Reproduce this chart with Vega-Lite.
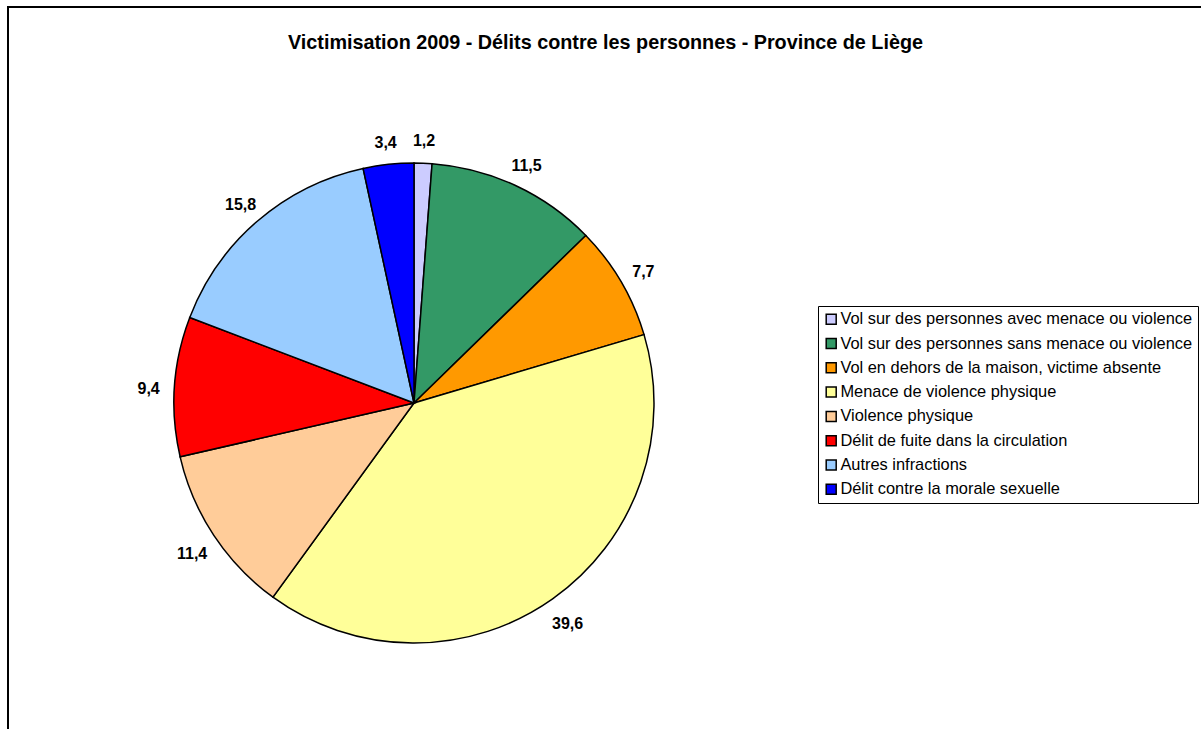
{
  "$schema": "https://vega.github.io/schema/vega-lite/v6.json",
  "width": 1195,
  "height": 729,
  "padding": {"left": 8, "top": 7, "right": 0, "bottom": 0},
  "autosize": {"type": "pad"},
  "background": "white",
  "view": {"stroke": "black", "strokeWidth": 2, "fill": "white"},
  "config": {
    "view": {"stroke": "black", "strokeWidth": 2},
    "font": "Liberation Sans",
    "locale": {"number": {"decimal": ",", "thousands": ".", "grouping": [3], "currency": ["", " €"]}}
  },
  "title": {
    "text": "Victimisation 2009 - Délits contre les personnes - Province de Liège",
    "anchor": "middle",
    "frame": "group",
    "offset": -46,
    "fontSize": 19.8,
    "font": "Liberation Sans",
    "fontWeight": "bold",
    "color": "black"
  },
  "data": {
    "values": [
      {"idx": 1, "categorie": "Vol sur des personnes avec menace ou violence", "value": 1.2},
      {"idx": 2, "categorie": "Vol sur des personnes sans menace ou violence", "value": 11.5},
      {"idx": 3, "categorie": "Vol en dehors de la maison, victime absente", "value": 7.7},
      {"idx": 4, "categorie": "Menace de violence physique", "value": 39.6},
      {"idx": 5, "categorie": "Violence physique", "value": 11.4},
      {"idx": 6, "categorie": "Délit de fuite dans la circulation", "value": 9.4},
      {"idx": 7, "categorie": "Autres  infractions", "value": 15.8},
      {"idx": 8, "categorie": "Délit contre la morale sexuelle", "value": 3.4}
    ]
  },
  "encoding": {
    "theta": {"field": "value", "type": "quantitative", "stack": true},
    "order": {"field": "idx", "type": "quantitative"}
  },
  "layer": [
    {
      "mark": {"type": "arc", "outerRadius": 240, "x": 406, "y": 396, "stroke": "black", "strokeWidth": 1.5},
      "encoding": {
        "color": {
          "field": "categorie",
          "type": "nominal",
          "scale": {
            "domain": [
              "Vol sur des personnes avec menace ou violence",
              "Vol sur des personnes sans menace ou violence",
              "Vol en dehors de la maison, victime absente",
              "Menace de violence physique",
              "Violence physique",
              "Délit de fuite dans la circulation",
              "Autres  infractions",
              "Délit contre la morale sexuelle"
            ],
            "range": ["#CCCCFF", "#339966", "#FF9900", "#FFFF99", "#FFCC99", "#FF0000", "#99CCFF", "#0000FF"]
          },
          "legend": {
            "orient": "none",
            "legendX": 810,
            "legendY": 299,
            "title": null,
            "strokeColor": "black",
            "padding": 5,
            "symbolType": "square",
            "symbolSize": 100,
            "symbolStrokeColor": "black",
            "symbolStrokeWidth": 1.5,
            "symbolOpacity": 1,
            "labelFontSize": 16.4,
            "labelFont": "Liberation Sans",
            "labelColor": "black",
            "labelOffset": 1,
            "labelLimit": 0,
            "rowPadding": 7.3
          }
        }
      }
    },
    {
      "mark": {"type": "text", "radius": 266, "x": 406, "y": 396, "dy": 4, "fontSize": 16, "fontWeight": "bold", "font": "Liberation Sans", "color": "black", "align": "center", "baseline": "middle"},
      "encoding": {
        "text": {"field": "value", "type": "quantitative", "format": ".1f"}
      }
    }
  ]
}
